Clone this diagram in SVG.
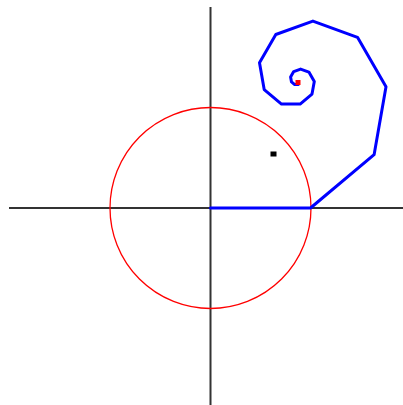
<svg xmlns="http://www.w3.org/2000/svg" width="403" height="405" viewBox="0 0 403 405">
<style>
.axis{stroke:#333;stroke-width:2;fill:none}
.circle{stroke:#ff0000;stroke-width:1.3;fill:none}
.spiral{stroke:#0000ff;stroke-width:3;fill:none;stroke-linejoin:round;stroke-linecap:round}
</style>
<rect width="403" height="405" fill="#fff"/>
<g id="axes">
<line class="axis" x1="9" y1="208" x2="403" y2="208"/>
<line class="axis" x1="210.5" y1="7" x2="210.5" y2="405"/>
</g>
<g id="unit-circle">
<circle class="circle" cx="210.5" cy="208" r="100.5"/>
</g>
<g id="spiral">
<polyline class="spiral" points="210.5,208 310.5,208 374.1,154.7 386.0,86.8 357.5,37.3 312.9,21.1 275.8,34.5 259.5,62.8 264.2,89.6 281.5,104.1 300.1,104.1 312.0,94.1 314.3,81.4 308.9,72.1 300.6,69.1 293.7,71.6 290.6,76.9 291.5,81.9 294.7,84.6 298.2,84.6"/>
</g>
<g id="limit-point">
<rect x="295.5" y="80" width="5" height="5" fill="#ff0000"/>
</g>
<g id="marker">
<rect x="270.5" y="151.5" width="6" height="5" fill="#000"/>
</g>
</svg>
